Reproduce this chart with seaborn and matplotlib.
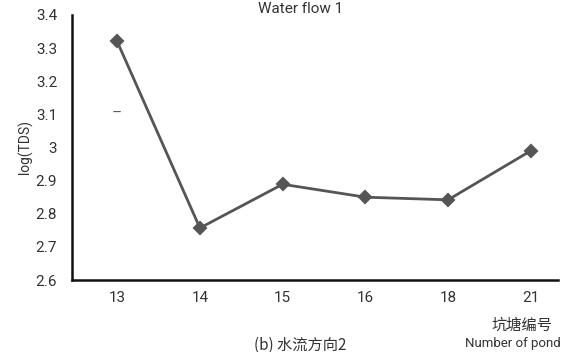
import matplotlib
matplotlib.use('Agg')
import matplotlib.pyplot as plt
import pandas as pd
import seaborn as sns

sns.set_theme(style='white')
plt.rcParams['font.family'] = ['Roboto', 'Noto Sans CJK SC', 'DejaVu Sans']

# pond numbers and log(TDS)
PONDS = ['13', '14', '15', '16', '18', '21']
LOG_TDS = [3.32, 2.757, 2.889, 2.85, 2.842, 2.99]
Y_TICKS = [2.6, 2.7, 2.8, 2.9, 3.0, 3.1, 3.2, 3.3, 3.4]
Y_TICK_LABELS = ['2.6', '2.7', '2.8', '2.9', '3', '3.1', '3.2', '3.3', '3.4']

LINE_COLOR = '#555555'
TEXT_COLOR = '#333333'
CJK = ['Noto Sans CJK SC', 'DejaVu Sans']

df = pd.DataFrame({'pond': PONDS, 'log_tds': LOG_TDS})

fig = plt.figure(figsize=(5.62, 3.52), dpi=100)
ax = fig.add_axes([0.129, 0.2045, 0.864, 0.753])

sns.pointplot(data=df, x='pond', y='log_tds', order=PONDS, color=LINE_COLOR,
              marker='D', markersize=6.5, linewidth=2.0, ax=ax)

ax.set_xlim(-0.54, 5.33)
ax.set_ylim(2.6, 3.4)
ax.set_yticks(Y_TICKS)
ax.set_yticklabels(Y_TICK_LABELS)
ax.set_xlabel('')
ax.set_ylabel('log(TDS)', fontsize=10, color=TEXT_COLOR, labelpad=2)

sns.despine(ax=ax)
for side in ['left', 'bottom']:
    ax.spines[side].set_color('#111111')
    ax.spines[side].set_linewidth(1.8)

ax.tick_params(axis='y', direction='in', length=6, width=1.0, color='#111111',
               pad=11, labelsize=11, labelcolor=TEXT_COLOR)
ax.tick_params(axis='x', length=0, pad=8, labelsize=11, labelcolor=TEXT_COLOR)
ax.grid(False)

# stray dash mark seen near 3.1
ax.text(0, 3.1, '–', ha='center', va='center', fontsize=11, color='#555555')

fig.text(0.534, 0.975, 'Water flow 1', ha='center', va='center',
         fontsize=11, color=TEXT_COLOR)
fig.text(0.928, 0.077, '坑塘编号', ha='center', va='center',
         fontsize=11, color=TEXT_COLOR, family=CJK)
fig.text(0.912, 0.024, 'Number of pond', ha='center', va='center',
         fontsize=9.5, color=TEXT_COLOR)
fig.text(0.534, 0.02, '(b) 水流方向2', ha='center', va='center',
         fontsize=11, color=TEXT_COLOR, family=CJK)

fig.savefig('out.png', dpi=100)
